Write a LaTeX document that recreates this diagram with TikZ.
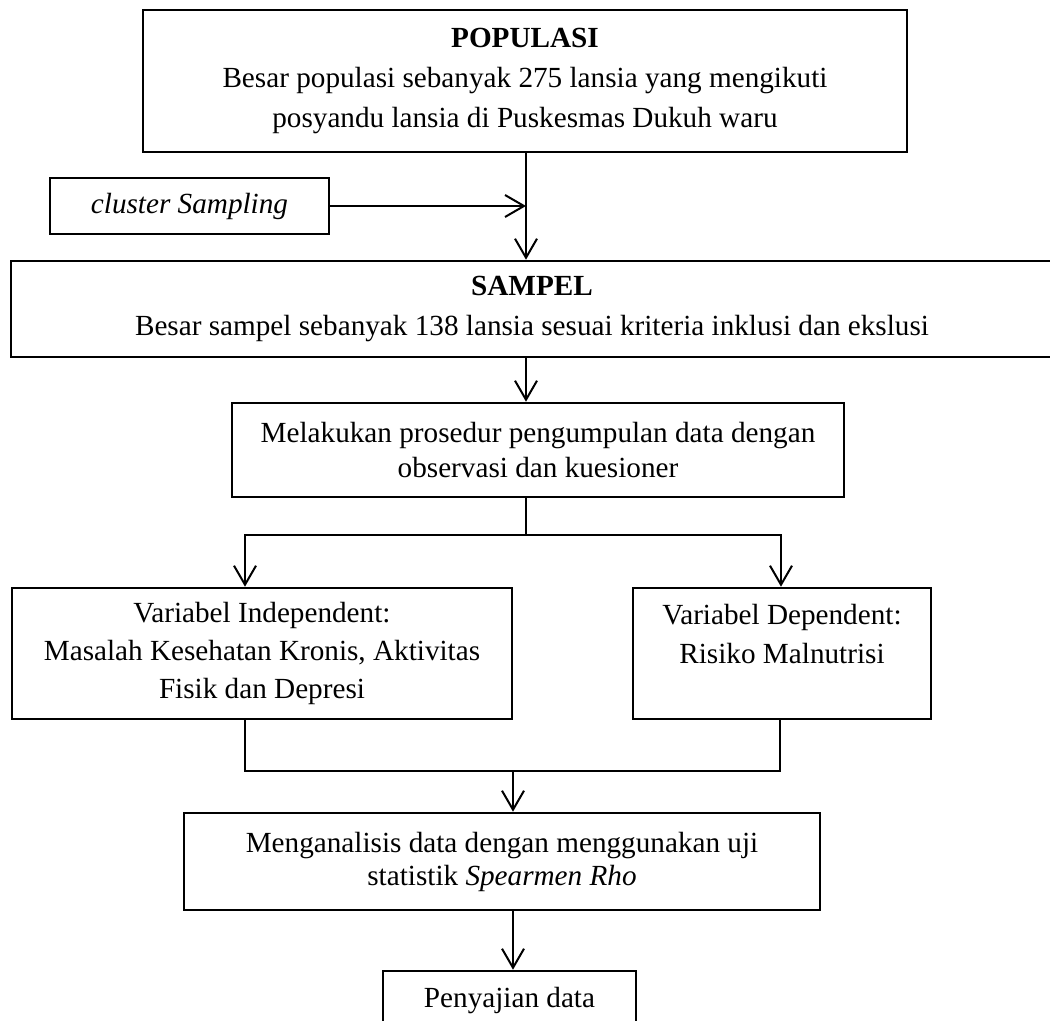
\documentclass[tikz,border=0pt]{standalone}
\usepackage{fontspec}
\setmainfont{Liberation Serif}
\usetikzlibrary{arrows.meta,calc}
\begin{document}
\begin{tikzpicture}[x=0.5pt,y=-0.5pt,
  box/.style={draw=black,line width=1.3pt,rectangle,inner sep=0pt,align=center,
    font=\fontsize{14.6pt}{20pt}\selectfont},
  arr/.style={line width=1pt,-{Straight Barb[length=9.5pt,width=11pt]}},
  ln/.style={line width=1pt}]
\useasboundingbox (0,0) rectangle (1050,1021);
\clip (0,0) rectangle (1050,1021);
\node[box,minimum width=382pt,minimum height=71pt] (pop) at (525,81)
  {\textbf{POPULASI}\\Besar populasi sebanyak 275 lansia yang mengikuti\\posyandu lansia di Puskesmas Dukuh waru};
\node[box,minimum width=139.5pt,minimum height=28pt] (clu) at (189.5,206)
  {\textit{cluster Sampling}};
\node[box,minimum width=521pt,minimum height=48pt] (sam) at (532,309)
  {\textbf{SAMPEL}\\Besar sampel sebanyak 138 lansia sesuai kriteria inklusi dan ekslusi};
\node[box,minimum width=306pt,minimum height=47pt,font=\fontsize{14.6pt}{17.5pt}\selectfont] (mel) at (538,450)
  {Melakukan prosedur pengumpulan data dengan\\observasi dan kuesioner};
\node[box,minimum width=250pt,minimum height=65.5pt,font=\fontsize{14.6pt}{19pt}\selectfont] (ind) at (262,653.5)
  {Variabel Independent:\\Masalah Kesehatan Kronis, Aktivitas\\Fisik dan Depresi};
\node[box,minimum width=149pt,minimum height=65.5pt,font=\fontsize{14.6pt}{19.5pt}\selectfont] (dep) at (782,653.5)
  {Variabel Dependent:\\Risiko Malnutrisi\\\mbox{}};
\node[box,minimum width=318pt,minimum height=48.5pt,font=\fontsize{14.6pt}{16.5pt}\selectfont] (ana) at (502,861.5)
  {Menganalisis data dengan menggunakan uji\\statistik \textit{Spearmen Rho}};
\node[box,minimum width=126.5pt,minimum height=30pt] (pen) at (509.5,1001)
  {Penyajian data};
% connectors
\coordinate (s1) at (526,535);
\coordinate (sl) at (245,535);
\coordinate (sr) at (781,535);
\coordinate (jl) at (245,771);
\coordinate (jr) at (780,771);
\coordinate (jm) at (513,771);
\draw[arr] (pop.south -| s1) -- (sam.north -| s1);
\draw[arr] (clu.east) -- (clu.east -| s1);
\draw[arr] (sam.south -| s1) -- (mel.north -| s1);
\draw[ln] (mel.south -| s1) -- (s1);
\draw[arr] (s1) -- (sl) -- (sl |- ind.north);
\draw[arr] (s1) -- (sr) -- (sr |- dep.north);
\draw[ln] (ind.south -| jl) -- (jl) -- (jr) -- (dep.south -| jr);
\draw[arr] (jm) -- (jm |- ana.north);
\draw[arr] (ana.south -| jm) -- (pen.north -| jm);
\end{tikzpicture}
\end{document}
